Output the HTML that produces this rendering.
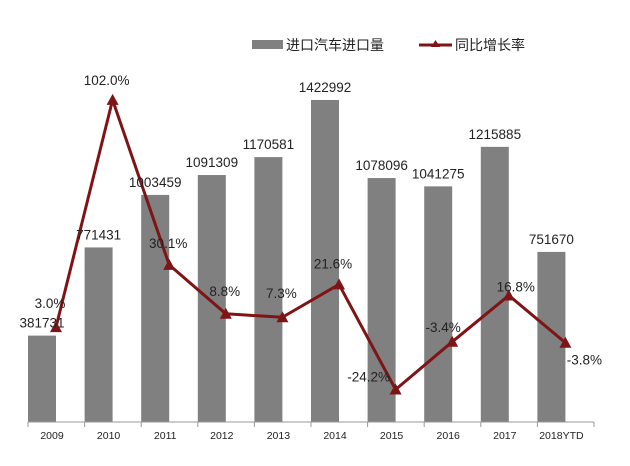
<!DOCTYPE html>
<html><head><meta charset="utf-8"><style>
body{margin:0;background:#fff;}
svg{display:block;font-family:"Liberation Sans","Noto Sans CJK SC",sans-serif;}
</style></head><body>
<svg id="chart" width="630" height="466">
<g>
<rect x="252" y="40" width="31" height="9" fill="#808080"/>
<text x="286" y="50" font-size="14" fill="#222">进口汽车进口量</text>
<line x1="419" y1="45" x2="452" y2="45" stroke="#7f1416" stroke-width="3"/>
<polygon points="435.5,40 440,47 431,47" fill="#7f1416"/>
<text x="455" y="50" font-size="14" fill="#222">同比增长率</text>
</g>
<g id="bars"></g><g id="line"></g><g id="labels"></g><g id="axis"></g>
</svg>
<script>
const categories=["2009","2010","2011","2012","2013","2014","2015","2016","2017","2018YTD"];
const volumes=[381731,771431,1003459,1091309,1170581,1422992,1078096,1041275,1215885,751670];
const growth=[3.0,102.0,30.1,8.8,7.3,21.6,-24.2,-3.4,16.8,-3.8];
const growthLabels=["3.0%","102.0%","30.1%","8.8%","7.3%","21.6%","-24.2%","-3.4%","16.8%","-3.8%"];
const NS="http://www.w3.org/2000/svg";
const x0=28,step=56.6,bw=28,base=422;
const xCat=i=>x0+i*step;
const yBar=v=>base-v*0.0002263;
const yLine=p=>334-p*2.295;
const bars=document.getElementById('bars'),line=document.getElementById('line'),labels=document.getElementById('labels'),axis=document.getElementById('axis');
function mk(tag,attrs,parent){const e=document.createElementNS(NS,tag);for(const k in attrs)e.setAttribute(k,attrs[k]);parent.appendChild(e);return e;}
const gOff=[[-6,-19],[-6,-15],[-1,-17],[-1,-18],[-1,-19],[-6,-16],[-27,-8],[-9,-10],[7,-4],[19,22]];
let pts=[];
categories.forEach((c,i)=>{
  const x=xCat(i),y=yBar(volumes[i]);
  const r=mk('rect',{x:x,y:y,width:bw,height:base-y,fill:'#808080'},bars);
  
  
  const t=mk('text',{x:x+bw/2,y:y-8,'font-size':13.5,'text-anchor':'middle',fill:'#222'},labels);
  t.textContent=volumes[i];
  
  
  const px=x+bw,py=yLine(growth[i]);pts.push(px+','+py);
  const xl=mk('text',{x:xCat(i)+bw/2+10,y:base+17,'font-size':10.5,'text-anchor':'middle',fill:'#222'},axis);
  xl.textContent=c;
  
  
});
const pl=mk('polyline',{points:pts.join(' '),fill:'none',stroke:'#7f1416','stroke-width':3,'stroke-linejoin':'round'},line);


categories.forEach((c,i)=>{
  const px=xCat(i)+bw,py=yLine(growth[i]);
  const m=mk('polygon',{points:`${px},${py-6} ${px+6},${py+5} ${px-6},${py+5}`,fill:'#7f1416'},line);
  
  
  const t=mk('text',{x:px+gOff[i][0],y:py+gOff[i][1],'font-size':13.5,'text-anchor':'middle',fill:'#222'},labels);
  t.textContent=growthLabels[i];
  
  
});
const ax=mk('line',{x1:x0,y1:base,x2:x0+10*step,y2:base,stroke:'#999','stroke-width':1},axis);


for(let i=0;i<=10;i++){
  const tk=mk('line',{x1:xCat(i),y1:base,x2:xCat(i),y2:base+5,stroke:'#999'},axis);
  
  
}
</script>
</body></html>
